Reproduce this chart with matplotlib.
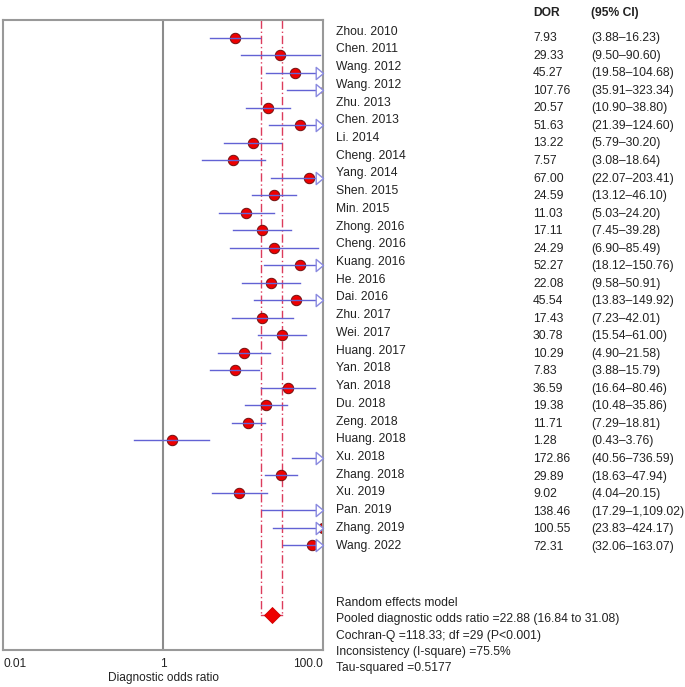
import numpy as np
import matplotlib.pyplot as plt
from matplotlib.path import Path

plt.rcParams['font.family'] = ['Liberation Sans', 'DejaVu Sans']

# study data
studies = ["Zhou. 2010", "Chen. 2011", "Wang. 2012", "Wang. 2012", "Zhu. 2013",
           "Chen. 2013", "Li. 2014", "Cheng. 2014", "Yang. 2014", "Shen. 2015",
           "Min. 2015", "Zhong. 2016", "Cheng. 2016", "Kuang. 2016", "He. 2016",
           "Dai. 2016", "Zhu. 2017", "Wei. 2017", "Huang. 2017", "Yan. 2018",
           "Yan. 2018", "Du. 2018", "Zeng. 2018", "Huang. 2018", "Xu. 2018",
           "Zhang. 2018", "Xu. 2019", "Pan. 2019", "Zhang. 2019", "Wang. 2022"]
dor = [7.93, 29.33, 45.27, 107.76, 20.57, 51.63, 13.22, 7.57, 67.00, 24.59,
       11.03, 17.11, 24.29, 52.27, 22.08, 45.54, 17.43, 30.78, 10.29, 7.83,
       36.59, 19.38, 11.71, 1.28, 172.86, 29.89, 9.02, 138.46, 100.55, 72.31]
ci_low = [3.88, 9.50, 19.58, 35.91, 10.90, 21.39, 5.79, 3.08, 22.07, 13.12,
          5.03, 7.45, 6.90, 18.12, 9.58, 13.83, 7.23, 15.54, 4.90, 3.88,
          16.64, 10.48, 7.29, 0.43, 40.56, 18.63, 4.04, 17.29, 23.83, 32.06]
ci_high = [16.23, 90.60, 104.68, 323.34, 38.80, 124.60, 30.20, 18.64, 203.41, 46.10,
           24.20, 39.28, 85.49, 150.76, 50.91, 149.92, 42.01, 61.00, 21.58, 15.79,
           80.46, 35.86, 18.81, 3.76, 736.59, 47.94, 20.15, 1109.02, 424.17, 163.07]

pooled = 22.88
pooled_low = 16.84
pooled_high = 31.08
summary_lines = ["Random effects model",
                 "Pooled diagnostic odds ratio =22.88 (16.84 to 31.08)",
                 "Cochran-Q =118.33; df =29 (P<0.001)",
                 "Inconsistency (I-square) =75.5%",
                 "Tau-squared =0.5177"]

W, H = 685, 687
fig = plt.figure(figsize=(W / 100, H / 100), dpi=100)
ax = fig.add_axes([3 / W, 1 - 650 / H, 320 / W, 630 / H])

xmin, xmax = 0.01, 100
ax.set_xscale('log')
ax.set_xlim(xmin, xmax)
ax.set_ylim(35, -1)

line_col = '#6262d4'
dot_col = '#ee0000'
ref_col = '#dc3c5c'

# open arrow head, tip at the origin
arrow = Path([(-1.2, 1), (0, 0), (-1.2, -1), (-1.2, 1)],
             [Path.MOVETO, Path.LINETO, Path.LINETO, Path.CLOSEPOLY])

rows = np.arange(len(studies))
for i in rows:
    hi = min(ci_high[i], xmax)
    ax.plot([ci_low[i], hi], [i, i], color=line_col, lw=1, zorder=3)
    ax.plot(dor[i], i, 'o', ms=7.5, mfc=dot_col, mec='#701010', mew=0.7, zorder=2)
    if ci_high[i] > xmax:
        ax.plot(xmax, i, marker=arrow, ms=10.5, mfc='white', mec='#8a8ae0',
                mew=1, clip_on=False, zorder=4)

# pooled estimate with its interval
n_sum = 33
for v in (pooled_low, pooled_high):
    ax.plot([v, v], [-1, n_sum], color=ref_col, lw=1, ls=(0, (6, 2, 1, 2)), zorder=1)
ax.plot([pooled_low, pooled_high], [n_sum, n_sum], color=ref_col, lw=1, zorder=1)
ax.plot(pooled, n_sum, 'D', ms=8.6, mfc='#ee0000', mec='#cc0000', mew=0.6, zorder=5)

ax.axvline(1, color='#8c8c8c', lw=1.5, zorder=0)
for s in ax.spines.values():
    s.set_color('#999999')
    s.set_linewidth(1.5)

ax.set_yticks([])
ax.set_xticks([0.01, 1, 100])
ax.set_xticks([], minor=True)
ax.set_xticklabels(["0.01", "1", "100.0"], fontsize=8.6)
ax.tick_params(axis='x', length=0, pad=5.5, colors='#222222')
lbls = ax.get_xticklabels()
lbls[0].set_horizontalalignment('left')
lbls[2].set_horizontalalignment('right')
ax.set_xlabel("Diagnostic odds ratio", fontsize=8.6, labelpad=2, color='#222222')

# table on the right
fs = 8.7
tc = '#222222'
fig.text(533 / W, 1 - 13 / H, "DOR", fontsize=fs, fontweight='bold', va='center', color=tc)
fig.text(591 / W, 1 - 13 / H, "(95% CI)", fontsize=fs, fontweight='bold', va='center', color=tc)
for i in rows:
    y_name = 31.7 + 17.72 * i
    y_val = 38.3 + 17.53 * i
    fig.text(336 / W, 1 - y_name / H, studies[i], fontsize=fs, va='center', color=tc)
    fig.text(533 / W, 1 - y_val / H, f"{dor[i]:.2f}", fontsize=fs, va='center', color=tc)
    fig.text(591 / W, 1 - y_val / H, f"({ci_low[i]:,.2f}\u2013{ci_high[i]:,.2f})",
             fontsize=fs, va='center', color=tc)

for k, s in enumerate(summary_lines):
    fig.text(336 / W, 1 - (603 + 16.3 * k) / H, s, fontsize=fs, va='center', color=tc)

fig.savefig("out.png", dpi=100)
